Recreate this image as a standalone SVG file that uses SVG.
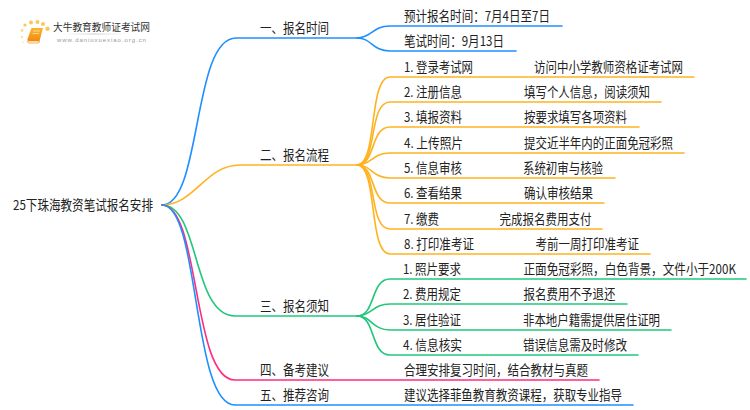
<svg xmlns="http://www.w3.org/2000/svg" width="750" height="410" viewBox="0 0 750 410">
<defs>
<linearGradient id="bk" x1="0" y1="0" x2="0" y2="1"><stop offset="0" stop-color="#fbb62e"/><stop offset="1" stop-color="#f08a12"/></linearGradient>
<linearGradient id="ul" x1="0" y1="0" x2="1" y2="0"><stop offset="0" stop-color="#ddd" stop-opacity="0"/><stop offset=".5" stop-color="#ccc"/><stop offset="1" stop-color="#ddd" stop-opacity="0"/></linearGradient>
</defs>
<style>
text{font-family:"Noto Sans CJK SC","Liberation Sans",sans-serif;font-size:13.500px;fill:#222}
.c{fill:none;stroke-width:1.6;stroke-linecap:round}
.b{stroke:#1f8fff}.o{stroke:#ffb21f}.g{stroke:#22c77b}.p{stroke:#ff2d7e}
</style>
<rect width="750" height="410" fill="#fff"/>
<g id="logo">
<g fill="#fbc75a"><circle cx="23" cy="42" r="1" opacity=".35"/><circle cx="22" cy="37" r="1.200" opacity=".5"/><circle cx="22" cy="30.500" r="1.400" opacity=".7"/><circle cx="25" cy="25" r="1.600"/><circle cx="31" cy="22.500" r="2"/><circle cx="37.500" cy="22" r="2"/><circle cx="43" cy="24" r="2"/><circle cx="47.500" cy="28.800" r="2.200"/></g>
<path d="M31.500 28L43 28L39.500 41L28.500 41Q27 41 27.500 39Z" fill="url(#bk)"/><path d="M28 41L39.500 41L38.800 43L28.500 43Q26.800 42 28 41Z" fill="#fff" stroke="#f08a10" stroke-width=".7"/>
<path d="M33 31H40M32.500 33.500H39" stroke="#fde3a8" stroke-width=".8" fill="none"/>
<text x="53" y="31" textLength="97" lengthAdjust="spacingAndGlyphs" style="font-size:10px;fill:#333">大牛教育教师证考试网</text>
<rect x="60" y="33.500" width="70" height="1" fill="url(#ul)"/>
<text x="57" y="41.500" style="font-family:'Liberation Sans',sans-serif;font-size:6px;fill:#999;letter-spacing:.95px">www.daniuxuexiao.org.cn</text>
</g>
<g id="connectors">
<path class="c b" d="M162 205C202 205 192 38 236 38L357 38"/>
<path class="c o" d="M162 205C195 205 205 165 240 165L357 165"/>
<path class="c g" d="M162 205C200 205 192 316 235 316L357 316"/>
<path class="c p" d="M162 205C200 205 192 380 235 380L599 380"/>
<path class="c b" d="M162 205C200 205 192 405 235 405L633 405"/>
<path class="c b" d="M357 38C372 38 372 26 390 26L562 26"/>
<path class="c b" d="M357 38C372 38 372 51 390 51L516 51"/>
<path class="c o" d="M357 165C378 165 368 77 390 77L694 77"/>
<path class="c o" d="M357 165C378 165 368 102 390 102L661 102"/>
<path class="c o" d="M357 165C376 165 370 127 390 127L639 127"/>
<path class="c o" d="M357 165C372 165 372 153 390 153L684 153"/>
<path class="c o" d="M357 165C372 165 372 178 390 178L615 178"/>
<path class="c o" d="M357 165C376 165 370 203 390 203L604 203"/>
<path class="c o" d="M357 165C378 165 368 229 390 229L602 229"/>
<path class="c o" d="M357 165C378 165 368 254 390 254L650 254"/>
<path class="c g" d="M357 316C376 316 370 279 390 279L746 279"/>
<path class="c g" d="M357 316C372 316 372 304 390 304L627 304"/>
<path class="c g" d="M357 316C372 316 372 330 390 330L671 330"/>
<path class="c g" d="M357 316C376 316 370 355 390 355L638 355"/>
</g>
<g id="root"><text x="13" y="210" textLength="140" lengthAdjust="spacingAndGlyphs">25下珠海教资笔试报名安排</text></g>
<g id="n1"><text x="260" y="33" textLength="69" lengthAdjust="spacingAndGlyphs">一、报名时间</text></g>
<g id="n1-1"><text x="404" y="21" textLength="146" lengthAdjust="spacingAndGlyphs">预计报名时间：7月4日至7日</text></g>
<g id="n1-2"><text x="404" y="46" textLength="100" lengthAdjust="spacingAndGlyphs">笔试时间：9月13日</text></g>
<g id="n2"><text x="260" y="160" textLength="69" lengthAdjust="spacingAndGlyphs">二、报名流程</text></g>
<g id="n2-1"><text x="404" y="72" textLength="69" lengthAdjust="spacingAndGlyphs">1. 登录考试网</text><text x="534" y="72" textLength="149" lengthAdjust="spacingAndGlyphs">访问中小学教师资格证考试网</text></g>
<g id="n2-2"><text x="404" y="97" textLength="58" lengthAdjust="spacingAndGlyphs">2. 注册信息</text><text x="524" y="97" textLength="126" lengthAdjust="spacingAndGlyphs">填写个人信息，阅读须知</text></g>
<g id="n2-3"><text x="404" y="122" textLength="58" lengthAdjust="spacingAndGlyphs">3. 填报资料</text><text x="524" y="122" textLength="103" lengthAdjust="spacingAndGlyphs">按要求填写各项资料</text></g>
<g id="n2-4"><text x="404" y="148" textLength="59" lengthAdjust="spacingAndGlyphs">4. 上传照片</text><text x="524" y="148" textLength="149" lengthAdjust="spacingAndGlyphs">提交近半年内的正面免冠彩照</text></g>
<g id="n2-5"><text x="404" y="173" textLength="58" lengthAdjust="spacingAndGlyphs">5. 信息审核</text><text x="523" y="173" textLength="80" lengthAdjust="spacingAndGlyphs">系统初审与核验</text></g>
<g id="n2-6"><text x="404" y="198" textLength="58" lengthAdjust="spacingAndGlyphs">6. 查看结果</text><text x="524" y="198" textLength="69" lengthAdjust="spacingAndGlyphs">确认审核结果</text></g>
<g id="n2-7"><text x="404" y="224" textLength="35" lengthAdjust="spacingAndGlyphs">7. 缴费</text><text x="499.500" y="224" textLength="92" lengthAdjust="spacingAndGlyphs">完成报名费用支付</text></g>
<g id="n2-8"><text x="404" y="249" textLength="70" lengthAdjust="spacingAndGlyphs">8. 打印准考证</text><text x="535.500" y="249" textLength="103.500" lengthAdjust="spacingAndGlyphs">考前一周打印准考证</text></g>
<g id="n3"><text x="260" y="311" textLength="69" lengthAdjust="spacingAndGlyphs">三、报名须知</text></g>
<g id="n3-1"><text x="403" y="274" textLength="58" lengthAdjust="spacingAndGlyphs">1. 照片要求</text><text transform="translate(523.500 274) scale(.86 1)" x="0" y="0">正面免冠彩照，白色背景，文件小于200K</text></g>
<g id="n3-2"><text x="403" y="299" textLength="58" lengthAdjust="spacingAndGlyphs">2. 费用规定</text><text x="523.500" y="299" textLength="92" lengthAdjust="spacingAndGlyphs">报名费用不予退还</text></g>
<g id="n3-3"><text x="403" y="325" textLength="58" lengthAdjust="spacingAndGlyphs">3. 居住验证</text><text x="523" y="325" textLength="137" lengthAdjust="spacingAndGlyphs">非本地户籍需提供居住证明</text></g>
<g id="n3-4"><text x="403" y="350" textLength="59" lengthAdjust="spacingAndGlyphs">4. 信息核实</text><text x="523" y="350" textLength="104" lengthAdjust="spacingAndGlyphs">错误信息需及时修改</text></g>
<g id="n4"><text x="260" y="375" textLength="69" lengthAdjust="spacingAndGlyphs">四、备考建议</text></g>
<g id="n4-1"><text x="404" y="375" textLength="184" lengthAdjust="spacingAndGlyphs">合理安排复习时间，结合教材与真题</text></g>
<g id="n5"><text x="260" y="400" textLength="69" lengthAdjust="spacingAndGlyphs">五、推荐咨询</text></g>
<g id="n5-1"><text x="404" y="400" textLength="218" lengthAdjust="spacingAndGlyphs">建议选择菲鱼教育教资课程，获取专业指导</text></g>
</svg>
